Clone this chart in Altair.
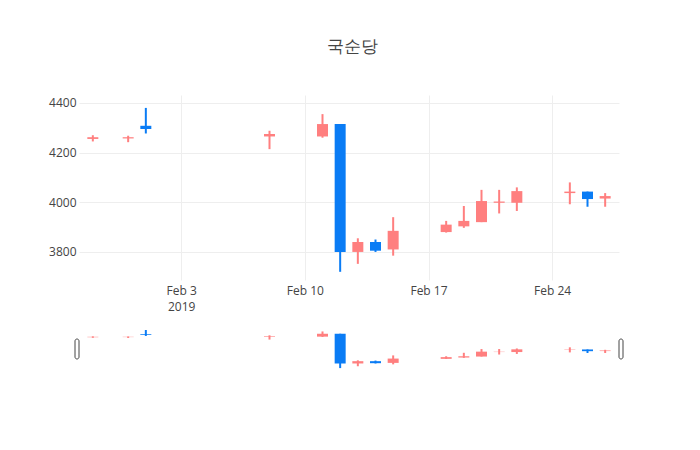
import altair as alt
import pandas as pd

dates = ["2019-01-29", "2019-01-31", "2019-02-01", "2019-02-08", "2019-02-11",
         "2019-02-12", "2019-02-13", "2019-02-14", "2019-02-15", "2019-02-18",
         "2019-02-19", "2019-02-20", "2019-02-21", "2019-02-22", "2019-02-25",
         "2019-02-26", "2019-02-27"]
opens = [4255, 4257, 4308, 4265, 4265, 4315, 3800, 3840, 3810, 3880, 3903, 3920, 3998, 3998, 4037, 4043, 4015]
highs = [4270, 4268, 4380, 4288, 4355, 4315, 3855, 3850, 3940, 3925, 3985, 4050, 4050, 4060, 4080, 4043, 4037]
lows = [4245, 4242, 4277, 4214, 4260, 3720, 3752, 3800, 3785, 3878, 3897, 3920, 3955, 3965, 3992, 3982, 3982]
closes = [4262, 4262, 4295, 4275, 4315, 3800, 3840, 3805, 3885, 3910, 3925, 4005, 4003, 4045, 4043, 4013, 4025]
y_ticks = [3800, 4000, 4200, 4400]

UP = "#FF7F7F"
DOWN = "#0A7CF5"

df = pd.DataFrame({
    "date": [d + "T00:00:00" for d in dates],
    "open": opens, "high": highs, "low": lows, "close": closes,
})
df["dir"] = ["up" if c >= o else "down" for o, c in zip(opens, closes)]

x_domain = [alt.DateTime(year=2019, month=1, date=28, hours=12),
            alt.DateTime(year=2019, month=2, date=27, hours=12)]
y_domain = [3687, 4432]

color = alt.Color("dir:N", scale=alt.Scale(domain=["up", "down"], range=[UP, DOWN]), legend=None)

label_expr = ("datum.index == 0 ? [timeFormat(datum.value, '%b %-d'), timeFormat(datum.value, '%Y')]"
              " : timeFormat(datum.value, '%b %-d')")

x_main = alt.X("date:T", scale=alt.Scale(domain=x_domain),
               axis=alt.Axis(title=None, tickCount={"interval": "week", "step": 1},
                             labelExpr=label_expr, grid=True, gridColor="#eeeeee",
                             domain=False, ticks=False, labelPadding=5,
                             labelFont="Open Sans", labelFontSize=12, labelColor="#444",
                             labelLineHeight=16))
y_main = alt.Y("low:Q", scale=alt.Scale(domain=y_domain, nice=False, zero=False),
               axis=alt.Axis(title=None, values=y_ticks, format="d", grid=True, gridColor="#eeeeee",
                             domain=False, ticks=False, labelPadding=3,
                             labelFont="Open Sans", labelFontSize=12, labelColor="#444"))

base = alt.Chart(df)
wick = base.mark_rule(strokeWidth=2).encode(x=x_main, y=y_main, y2="high:Q", color=color)
body = base.mark_bar(size=11).encode(x="date:T", y="open:Q", y2="close:Q", color=color)
main = alt.layer(wick, body).properties(width=540, height=185)

x_sl = alt.X("date:T", scale=alt.Scale(domain=x_domain), axis=None)
y_sl = alt.Y("low:Q", scale=alt.Scale(domain=y_domain, nice=False, zero=False), axis=None)
wick2 = base.mark_rule(strokeWidth=2).encode(x=x_sl, y=y_sl, y2="high:Q", color=color)
body2 = base.mark_bar(size=11).encode(x="date:T", y="open:Q", y2="close:Q", color=color)

handles = pd.DataFrame({"side": ["left", "right"]})
h_left = alt.Chart(handles).transform_filter("datum.side == 'left'").mark_rect(
    fill="white", stroke="#444", strokeWidth=1, cornerRadius=2).encode(
    x=alt.value(-4), x2=alt.value(0), y=alt.value(12), y2=alt.value(32))
h_right = alt.Chart(handles).transform_filter("datum.side == 'right'").mark_rect(
    fill="white", stroke="#444", strokeWidth=1, cornerRadius=2).encode(
    x=alt.value(540), x2=alt.value(544), y=alt.value(12), y2=alt.value(32))
slider = alt.layer(wick2, body2, h_left, h_right).properties(width=540, height=43)

chart = alt.vconcat(main, slider, spacing=47, bounds="flush").properties(
    title=alt.TitleParams("국순당", font="Open Sans", fontSize=17, fontWeight="normal",
                          color="#444", anchor="middle", offset=39, dx=16),
    padding={"left": 40, "top": 30, "right": 5, "bottom": 5},
    background="white",
).configure_view(strokeWidth=0, stroke="transparent")

chart.save("out.html", embed_options={"renderer": "svg", "actions": False})
